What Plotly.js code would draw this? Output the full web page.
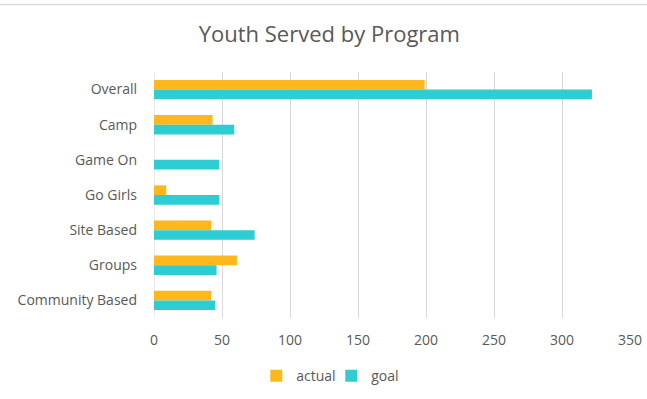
<!DOCTYPE html>
<html>
<head>
<meta charset="utf-8">
<script src="https://cdn.plot.ly/plotly-3.0.1.min.js"></script>
<style>
  html, body { margin: 0; padding: 0; background: #ffffff; }
  #chart { width: 647px; height: 399px; }
</style>
</head>
<body>
<div id="chart"></div>
<script>
const categories = ["Overall", "Camp", "Game On", "Go Girls", "Site Based", "Groups", "Community Based"];
const actualValues = [199, 43, 0, 9, 42, 61, 42];
const goalValues = [322, 59, 48, 48, 74, 46, 45];
const xTicks = [0, 50, 100, 150, 200, 250, 300, 350];

const textColor = "#595959";
const font = "'Open Sans', sans-serif";

const traces = [
  {
    type: "bar", orientation: "h", name: "actual",
    y: categories, x: actualValues,
    marker: { color: "#FFB71E" },
    hoverinfo: "x+name"
  },
  {
    type: "bar", orientation: "h", name: "goal",
    y: categories, x: goalValues,
    marker: { color: "#2ECCD3" },
    hoverinfo: "x+name"
  }
];

const layout = {
  width: 647, height: 399,
  margin: { l: 154, r: 17, t: 72, b: 81, autoexpand: false },
  paper_bgcolor: "#ffffff", plot_bgcolor: "#ffffff",
  font: { family: font, color: textColor, size: 14 },
  title: {
    text: "Youth Served by Program",
    font: { family: font, size: 22, color: textColor },
    xref: "container", x: 0.509, xanchor: "center",
    yref: "container", y: 0.915, yanchor: "middle"
  },
  barmode: "group",
  bargap: 0.45,
  bargroupgap: 0,
  xaxis: {
    range: [0, 350],
    tickvals: xTicks,
    ticktext: xTicks.map(String),
    showgrid: true, gridcolor: "#D9D9D9", gridwidth: 1,
    zeroline: false, showline: false,
    ticks: "", ticklabelstandoff: 12,
    tickfont: { family: font, size: 14, color: textColor },
    fixedrange: true
  },
  yaxis: {
    type: "category",
    autorange: "reversed",
    showgrid: false, zeroline: false,
    showline: false,
    ticks: "", ticklabelstandoff: 16,
    tickfont: { family: font, size: 14, color: textColor },
    fixedrange: true
  },
  legend: {
    orientation: "h",
    xref: "container", yref: "container",
    x: 0.512, xanchor: "center",
    y: 0.057, yanchor: "middle",
    entrywidth: 30,
    itemwidth: 30,
    font: { family: font, size: 14, color: textColor },
    bgcolor: "rgba(0,0,0,0)"
  },
  shapes: [
    { type: "line", xref: "paper", yref: "paper",
      x0: -0.33, x1: 1.04, y0: 1.274, y1: 1.274,
      line: { color: "#D9D9D9", width: 1.5 } },
    { type: "line", xref: "x", yref: "paper",
      x0: 0, x1: 0, y0: 0, y1: 1,
      line: { color: "#D9D9D9", width: 1 }, layer: "below" }
  ]
};

Plotly.newPlot("chart", traces, layout, { displayModeBar: false, staticPlot: true });
</script>
</body>
</html>
